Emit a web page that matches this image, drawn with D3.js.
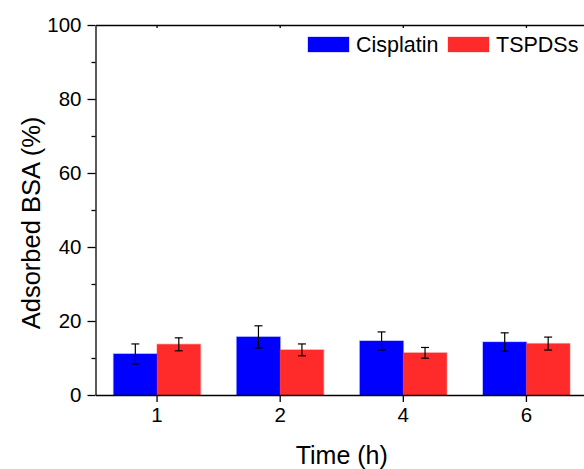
<!DOCTYPE html>
<html><head><meta charset="utf-8">
<script src="https://cdn.jsdelivr.net/npm/d3@7"></script>
<style>body{margin:0;background:#fff}svg{display:block}text{font-family:"Liberation Sans",Arial,sans-serif;fill:#000}</style>
</head><body><svg id="c" width="584" height="469"></svg>
<script>
const categories = ["1","2","4","6"];
const seriesNames = ["Cisplatin","TSPDSs"];
const cisplatin = [11.1, 15.7, 14.6, 14.3];
const cisplatinErr = [2.7, 3.0, 2.45, 2.5];
const tspdss = [13.7, 12.2, 11.4, 13.9];
const tspdssErr = [1.75, 1.6, 1.45, 1.75];
const yTicks = [0,20,40,60,80,100];
const colors = ["#0000ff","#ff2a2a"];

const svg = d3.select("#c");
const L = 95.5, R = 588, T = 25, B = 395;
const x = d3.scaleBand().domain(categories).range([L,R]).paddingInner(0).paddingOuter(0);
const inner = d3.scaleBand().domain(seriesNames).range([x.bandwidth()*0.147, x.bandwidth()*0.853]);
const y = d3.scaleLinear().domain([0,100]).range([B,T]);

const data = categories.map((c,i)=>[
  {cat:c, s:seriesNames[0], v:cisplatin[i], e:cisplatinErr[i], col:colors[0]},
  {cat:c, s:seriesNames[1], v:tspdss[i], e:tspdssErr[i], col:colors[1]}
]).flat();

// bars
svg.append("g").selectAll("rect").data(data).join("rect")
  .attr("x", d=>x(d.cat)+inner(d.s))
  .attr("y", d=>y(d.v))
  .attr("width", inner.bandwidth())
  .attr("height", d=>B-y(d.v))
  .attr("fill", d=>d.col)
  .attr("stroke", d=>d.col).attr("stroke-opacity",0.3).attr("stroke-width",1.5);

// error bars
const eb = svg.append("g").attr("stroke","#000").attr("stroke-width",1.2);
data.forEach(d=>{
  const cx = x(d.cat)+inner(d.s)+inner.bandwidth()/2;
  eb.append("line").attr("x1",cx).attr("x2",cx).attr("y1",y(d.v+d.e)).attr("y2",y(d.v-d.e));
  eb.append("line").attr("x1",cx-4).attr("x2",cx+4).attr("y1",y(d.v+d.e)).attr("y2",y(d.v+d.e));
  eb.append("line").attr("x1",cx-4).attr("x2",cx+4).attr("y1",y(d.v-d.e)).attr("y2",y(d.v-d.e));
});

// y axis
const yAx = svg.append("g").attr("transform",`translate(${L},0)`)
  .call(d3.axisLeft(y).tickValues(yTicks).tickSize(8).tickSizeOuter(0).tickPadding(6));
yAx.selectAll("text").style("font-size","20.5px");
svg.append("g").attr("transform",`translate(${L},0)`)
  .call(d3.axisLeft(y).tickValues([10,30,50,70,90]).tickSize(4).tickFormat(""))
  .select(".domain").remove();

// x axis
const xAx = svg.append("g").attr("transform",`translate(0,${B})`)
  .call(d3.axisBottom(x).tickSize(7).tickSizeOuter(0).tickPadding(5));
xAx.selectAll("text").style("font-size","20.5px");
// top frame
svg.append("g").attr("transform",`translate(0,${T})`)
  .call(d3.axisTop(x).tickSize(-3).tickSizeOuter(0).tickFormat(""));
svg.selectAll(".domain, .tick line").attr("stroke","#000").attr("stroke-width",1.3);

// titles
svg.append("text").attr("x",(L+R)/2).attr("y",464).attr("text-anchor","middle")
  .style("font-size","25px").text("Time (h)");
svg.append("text").attr("transform",`translate(40,${223}) rotate(-90)`).attr("text-anchor","middle")
  .style("font-size","25.5px").text("Adsorbed BSA (%)");

// legend
const lg = svg.append("g");
const lx = [308, 448];
seriesNames.forEach((s,i)=>{
  lg.append("rect").attr("x",lx[i]).attr("y",37).attr("width",41).attr("height",15)
    .attr("fill",colors[i]).attr("stroke",colors[i]).attr("stroke-opacity",0.3);
  lg.append("text").attr("x",lx[i]+48).attr("y",51.5).style("font-size","21.5px").text(s);
});
</script></body></html>
